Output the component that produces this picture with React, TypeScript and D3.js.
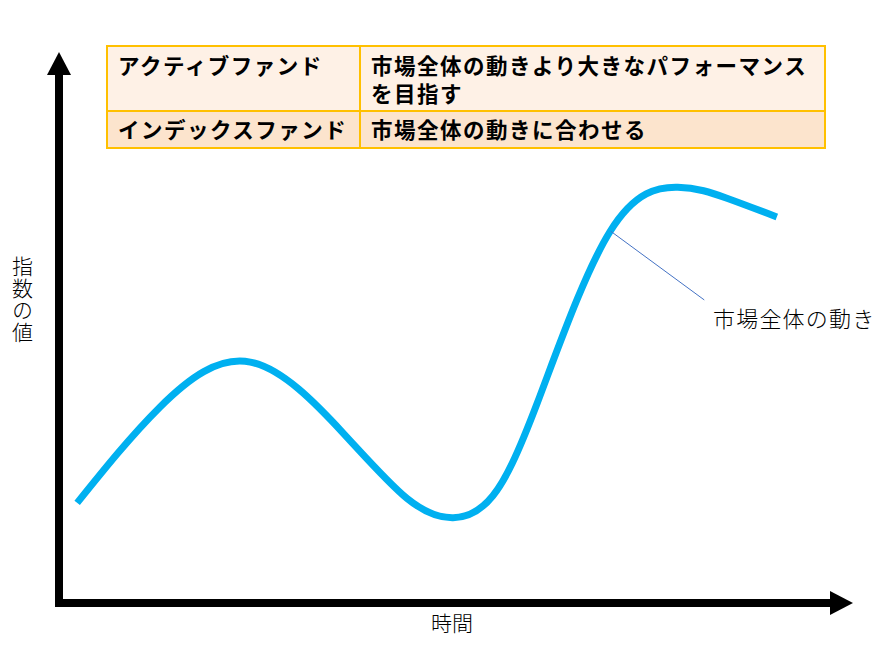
import React from "react";
import * as d3 from "d3";

// time (0-100) and index value (0-100) of the market curve
const times = [2.2, 12.8, 24.4, 36.3, 44.5, 50.4, 55.5, 61.2, 70.5, 79.2, 85.5, 91.9];
const values = [18.2, 35.6, 43.8, 30.9, 19.0, 15.5, 19.5, 36.4, 67.5, 75.6, 73.6, 70.2];

const tableLabels = ["アクティブファンド", "インデックスファンド"];
const tableDescriptions = [["市場全体の動きより大きなパフォーマンス", "を目指す"], ["市場全体の動きに合わせる"]];

const xTitle = "時間";
const yTitle = "指数の値";
const seriesLabel = "市場全体の動き";
const annotationFrom = { t: 70.6, v: 67.6 };
const annotationTo = { t: 82.6, v: 55.1 };

const W = 889;
const H = 650;

export default function App() {
  const x = d3.scaleLinear().domain([0, 100]).range([60, 840]);
  const y = d3.scaleLinear().domain([0, 100]).range([603, 53]);

  const pts: [number, number][] = times.map((t, i) => [t, values[i]]);
  const line = d3
    .line<[number, number]>()
    .x((d) => x(d[0]))
    .y((d) => y(d[1]))
    .curve(d3.curveNatural);

  const ax = 59;
  const ay = 603;
  const font = "'Noto Sans CJK JP', 'Noto Sans', sans-serif";

  // table geometry
  const tL = 107, tR = 825, tT = 46, tMid = 111, tB = 148, tCol = 360;

  return (
    <svg width={W} height={H} style={{ position: "absolute", left: 0, top: 0, background: "#fff" }}>
      {/* table */}
      <rect x={tL} y={tT} width={tR - tL} height={tMid - tT} fill="#FEF1E6" />
      <rect x={tL} y={tMid} width={tR - tL} height={tB - tMid} fill="#FCE4CD" />
      <rect x={tL} y={tT} width={tR - tL} height={tB - tT} fill="none" stroke="#FFC000" strokeWidth={2} />
      <line x1={tL} x2={tR} y1={tMid} y2={tMid} stroke="#FFC000" strokeWidth={2} />
      <line x1={tCol} x2={tCol} y1={tT} y2={tB} stroke="#FFC000" strokeWidth={2} />
      <g fontFamily={font} fontWeight={700} fontSize={21.5} fill="#000" letterSpacing={1.5}>
        <text x={118} y={64} dominantBaseline="central">{tableLabels[0]}</text>
        <text x={118} y={128} dominantBaseline="central">{tableLabels[1]}</text>
        <text x={371} y={64} dominantBaseline="central">{tableDescriptions[0][0]}</text>
        <text x={371} y={92} dominantBaseline="central">{tableDescriptions[0][1]}</text>
        <text x={371} y={128} dominantBaseline="central">{tableDescriptions[1][0]}</text>
      </g>

      {/* axes */}
      <line x1={ax} x2={ax} y1={ay + 4} y2={75} stroke="#000" strokeWidth={8} />
      <polygon points={`${ax - 12},75 ${ax + 12},75 ${ax},52`} fill="#000" />
      <line x1={ax - 4} x2={831} y1={ay} y2={ay} stroke="#000" strokeWidth={8} />
      <polygon points={`830,${ay - 12} 830,${ay + 12} 853,${ay}`} fill="#000" />

      {/* axis titles */}
      <text x={452} y={622} textAnchor="middle" dominantBaseline="central" fontFamily={font} fontWeight={300} fontSize={21} fill="#000">
        {xTitle}
      </text>
      <text
        x={22.5}
        y={256}
        style={{ writingMode: "vertical-rl" }}
        fontFamily={font}
        fontWeight={300}
        fontSize={21}
        letterSpacing={1}
        fill="#000"
      >
        {yTitle}
      </text>

      {/* market curve */}
      <path d={line(pts) || ""} fill="none" stroke="#00B0F0" strokeWidth={7} />

      {/* annotation */}
      <line
        x1={x(annotationFrom.t)}
        y1={y(annotationFrom.v)}
        x2={x(annotationTo.t)}
        y2={y(annotationTo.v)}
        stroke="#4472C4"
        strokeWidth={1}
      />
      <text x={713} y={317} dominantBaseline="central" fontFamily={font} fontWeight={300} fontSize={22} letterSpacing={1.2} fill="#000">
        {seriesLabel}
      </text>
    </svg>
  );
}
